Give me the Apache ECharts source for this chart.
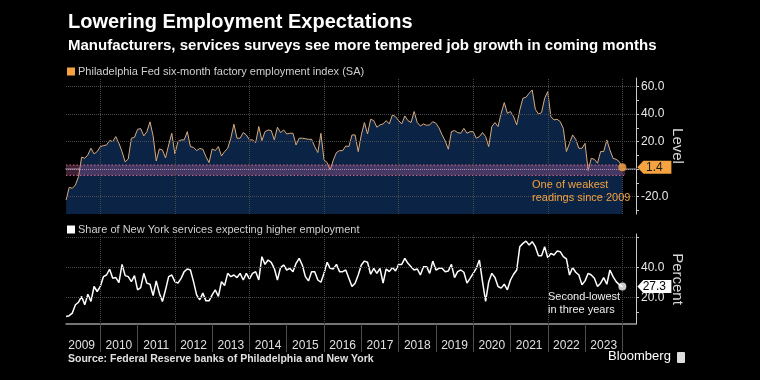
<!DOCTYPE html>
<html><head><meta charset="utf-8">
<script src="https://cdn.jsdelivr.net/npm/echarts@6/dist/echarts.min.js"></script>
<style>html,body{margin:0;padding:0;background:#000}#c{width:760px;height:380px}</style>
</head><body><div id="c"></div><script>
const startYear = 2009;
const titleText = 'Lowering Employment Expectations';
const subtitleText = 'Manufacturers, services surveys see more tempered job growth in coming months';
const phillyLabel = 'Philadelphia Fed six-month factory employment index (SA)';
const nyLabel = 'Share of New York services expecting higher employment';
const sourceText = 'Source: Federal Reserve banks of Philadelphia and New York';
const yearLabels = ['2009','2010','2011','2012','2013','2014','2015','2016','2017','2018','2019','2020','2021','2022','2023'];
const levelLabels = [60, 40, 20, -20];
const percentLabels = [40, 20];
const bandRange = [3, -4.5];

// Philadelphia Fed future employment index, monthly Jan 2009 - Dec 2023
const phillyFed = [
 -22.4,-13.2,-13.9,-11.5,-5.4,8.7,7.9,10.4,15.2,11.1,12.8,16.4,
 17.1,17.6,20.8,20.1,23.7,18.8,12.8,5.3,7.4,22.5,23.2,29.0,
 29.5,24.2,27.3,34.4,24.2,6.0,14.7,14.0,8.2,17.6,26.1,11.1,
 20.1,21.3,21.3,27.3,16.4,15.9,13.5,15.0,14.5,9.1,4.8,14.7,
 13.5,16.4,9.6,12.8,15.2,22.5,32.7,22.5,22.5,26.6,24.9,21.3,
 21.3,19.3,31.0,20.8,27.3,28.5,28.1,21.3,30.5,26.6,28.5,25.6,
 26.1,26.1,17.6,22.5,22.5,22.2,21.7,21.7,16.4,12.1,26.1,6.7,
 4.8,-0.6,6.7,12.1,13.5,13.5,16.9,16.4,24.9,24.9,12.8,24.9,
 33.9,25.6,36.3,35.3,30.5,32.2,32.9,35.3,32.9,39.4,38.2,35.3,
 32.9,38.7,35.3,33.9,41.9,33.9,31.4,32.9,31.9,32.2,34.6,33.4,
 30.0,24.9,20.5,14.5,27.3,28.1,26.6,26.1,29.7,26.1,27.3,27.3,
 22.5,23.7,26.6,23.7,16.4,31.0,33.9,31.0,40.7,48.4,40.7,41.9,
 38.2,32.2,43.1,51.6,52.3,55.2,57.6,43.6,40.2,41.1,51.6,56.4,
 38.2,35.8,36.3,34.6,29.7,12.8,18.8,24.9,21.7,15.2,15.2,18.8,
 -1.0,7.9,7.2,4.3,12.8,12.8,21.3,14.0,7.9,7.2,5.5,1.4
];
// NY Fed services: share expecting higher employment, monthly Jan 2009 - Dec 2023
const nyServices = [
 7.5,8.0,9.7,15.2,16.9,20.7,15.2,22.2,17.4,27.3,24.0,27.3,
 33.8,34.9,38.7,32.7,33.2,29.9,41.9,34.5,33.8,30.5,34.5,25.1,
 26.6,36.0,29.5,28.8,21.3,31.0,22.9,17.4,25.1,33.8,34.9,30.5,
 29.5,32.7,37.1,38.9,38.2,30.5,21.8,18.5,22.9,17.8,17.8,21.8,
 25.1,20.7,30.5,27.9,36.0,33.8,34.9,33.2,36.0,31.6,36.0,32.3,
 36.0,37.1,31.6,47.0,41.9,44.8,43.3,39.3,31.6,39.8,41.5,38.2,
 39.3,37.1,42.6,45.9,41.5,33.8,31.0,37.1,37.1,31.6,30.1,36.0,
 43.3,39.3,38.9,41.9,37.1,37.1,38.2,32.7,27.3,29.5,34.9,41.5,
 44.1,43.3,35.4,39.3,36.0,39.3,29.5,38.9,37.1,39.8,37.6,41.9,
 41.9,45.9,42.6,40.4,38.2,38.9,34.9,40.4,40.4,36.0,44.1,38.2,
 39.3,39.3,37.1,37.6,41.9,33.2,37.1,38.2,36.7,29.5,32.7,36.0,
 39.3,44.8,30.5,17.4,30.5,36.0,33.2,27.3,26.2,28.8,25.1,31.6,
 35.4,38.2,53.6,55.8,57.3,54.7,56.9,53.6,47.7,47.7,53.6,46.3,
 49.2,48.1,50.7,50.3,47.0,45.5,34.9,39.8,36.7,34.9,28.4,31.0,
 36.0,34.9,32.7,27.3,29.5,33.2,28.8,38.2,33.8,30.5,28.4,27.3
];

const ORANGE = '#f4a340';
const GRID_COLOR = '#4a4a4a';
const FONT = 'Liberation Sans';
const X_MIN = 2009.0805, X_MAX = 2024.366;

const months = phillyFed.map((_, i) => startYear + (i + 1) / 12);
const topData = phillyFed.map((v, i) => [months[i], v]);
const botData = nyServices.map((v, i) => [months[i], v]);
const lastX = months[months.length - 1];
const lastTop = phillyFed[phillyFed.length - 1];
const lastBot = nyServices[nyServices.length - 1];
const yearStarts = yearLabels.map(y => +y + 1);          // 2010..2024 boundaries
const yearMids = yearLabels.map(y => +y + 0.5);
const evenYears = yearStarts.filter(y => y % 2 === 0);

const dotted = {type: 'dotted', color: GRID_COLOR, width: 1};
function gridLines(hvals, extra) {
  const d = hvals.map(v => ({yAxis: v}));
  evenYears.forEach(y => d.push({xAxis: y}));
  return {silent: true, symbol: ['none', 'none'], label: {show: false}, lineStyle: dotted,
          animation: false, data: d.concat(extra || [])};
}
const tagPath = 'path://M0,6 L6,0 L34,0 L34,12 L6,12 Z';

const chart = echarts.init(document.getElementById('c'), null, {renderer: 'canvas'});
chart.setOption({
  backgroundColor: '#000',
  animation: false,
  textStyle: {fontFamily: FONT},
  title: {
    text: titleText, subtext: subtitleText, left: 63, top: 7, itemGap: 6,
    textStyle: {color: '#fff', fontSize: 20, fontWeight: 'bold', fontFamily: FONT},
    subtextStyle: {color: '#fff', fontSize: 15, fontWeight: 'bold', fontFamily: FONT}
  },
  legend: [
    {data: [phillyLabel], left: 62, top: 61, icon: 'rect', itemWidth: 8, itemHeight: 8, itemGap: 4,
     textStyle: {color: '#d0d0d0', fontSize: 11, padding: [0, 0, 0, -2]}, selectedMode: false},
    {data: [nyLabel], left: 62, top: 219, icon: 'rect', itemWidth: 8, itemHeight: 8, itemGap: 4,
     textStyle: {color: '#d0d0d0', fontSize: 11, padding: [0, 0, 0, -2]}, selectedMode: false}
  ],
  grid: [
    {left: 66, right: 124, top: 78, height: 136},
    {left: 66, right: 124, top: 234, height: 90}
  ],
  xAxis: [
    {gridIndex: 0, type: 'value', min: X_MIN, max: X_MAX,
     axisLine: {show: true, lineStyle: {color: '#4d4d4d', width: 2}},
     axisTick: {show: false}, axisLabel: {show: false}, splitLine: {show: false}},
    {gridIndex: 1, type: 'value', min: X_MIN, max: X_MAX,
     axisLine: {show: true, lineStyle: {color: '#9a9a9a', width: 1.5}},
     axisTick: {show: true, customValues: yearStarts, length: 28, lineStyle: {color: '#4d4d4d'}},
     axisLabel: {show: true, customValues: yearMids, formatter: v => String(Math.floor(v)),
                 color: '#e0e0e0', fontSize: 12, margin: 16},
     splitLine: {show: false}}
  ],
  yAxis: [
    {gridIndex: 0, type: 'value', position: 'right', min: -32.6, max: 66.3,
     axisLine: {show: true, lineStyle: {color: '#c8c8c8'}},
     axisTick: {show: true, customValues: [-30,-20,-10,0,10,20,30,40,50,60], length: 3, lineStyle: {color: '#c8c8c8'}},
     axisLabel: {customValues: levelLabels, formatter: v => v.toFixed(1), color: '#e8e8e8', fontSize: 12, margin: 5},
     splitLine: {show: false},
     name: 'Level', nameLocation: 'middle', nameRotate: -90, nameGap: 34, nameMoveOverlap: false,
     nameTextStyle: {color: '#d8d8d8', fontSize: 15}},
    {gridIndex: 1, type: 'value', position: 'right', min: 2.5, max: 62,
     axisLine: {show: true, lineStyle: {color: '#c8c8c8'}},
     axisTick: {show: true, customValues: [10, 20, 40, 60], length: 3, lineStyle: {color: '#c8c8c8'}},
     axisLabel: {customValues: percentLabels, formatter: v => v.toFixed(1), color: '#e8e8e8', fontSize: 12, margin: 5},
     splitLine: {show: false},
     name: 'Percent', nameLocation: 'middle', nameRotate: -90, nameGap: 34, nameMoveOverlap: false,
     nameTextStyle: {color: '#d8d8d8', fontSize: 15}}
  ],
  series: [
    {name: phillyLabel, type: 'line', xAxisIndex: 0, yAxisIndex: 0, data: topData, z: 2,
     showSymbol: false, symbol: 'none', itemStyle: {color: ORANGE},
     lineStyle: {color: '#d9ab7c', width: 1}, areaStyle: {color: '#0b2344', opacity: 1, origin: 'start'},
     markLine: gridLines([60, 40, 20, -20], [{yAxis: 0, lineStyle: {type: 'dotted', color: '#a58fb8', width: 1}}]),
     markPoint: {silent: true, symbol: tagPath, symbolSize: [34, 13], symbolOffset: [32, 0],
       itemStyle: {color: ORANGE},
       label: {show: true, position: 'inside', formatter: p => p.value.toFixed(1), color: '#1a1a1a', fontSize: 12},
       data: [{coord: [lastX, lastTop], value: lastTop}]}},
    {type: 'custom', xAxisIndex: 0, yAxisIndex: 0, z: 4, silent: true,
     data: [[X_MIN, bandRange[0], lastX + 0.08, bandRange[1]]],
     encode: {x: [0, 2], y: [1, 3]},
     renderItem: (params, api) => {
       const p0 = api.coord([api.value(0), api.value(1)]);
       const p1 = api.coord([api.value(2), api.value(3)]);
       const lineStyle = {stroke: '#d86a8c', lineWidth: 1, lineDash: [1.5, 2]};
       return {type: 'group', children: [
         {type: 'rect', shape: {x: p0[0], y: p0[1], width: p1[0] - p0[0], height: p1[1] - p0[1]},
          style: {fill: 'rgba(205,110,175,0.30)'}},
         {type: 'line', shape: {x1: p0[0], y1: p0[1], x2: p1[0], y2: p0[1]}, style: lineStyle},
         {type: 'line', shape: {x1: p0[0], y1: p1[1], x2: p1[0], y2: p1[1]}, style: lineStyle}
       ]};
     }},
    {type: 'scatter', xAxisIndex: 0, yAxisIndex: 0, data: [[lastX, lastTop]], symbolSize: 8,
     itemStyle: {color: ORANGE}, z: 6, silent: true},
    {name: nyLabel, type: 'line', xAxisIndex: 1, yAxisIndex: 1, data: botData,
     showSymbol: false, symbol: 'none', itemStyle: {color: '#ffffff'},
     lineStyle: {color: '#ffffff', width: 1.5},
     markLine: gridLines([60, 40, 20]),
     markPoint: {silent: true, symbol: tagPath, symbolSize: [34, 13], symbolOffset: [32, 0],
       itemStyle: {color: '#ffffff'},
       label: {show: true, position: 'inside', formatter: p => p.value.toFixed(1), color: '#000', fontSize: 12},
       data: [{coord: [lastX, lastBot], value: lastBot}]}},
    {type: 'scatter', xAxisIndex: 1, yAxisIndex: 1, data: [[lastX, lastBot]], symbolSize: 8,
     itemStyle: {color: '#ffffff'}, z: 6, silent: true}
  ],
  graphic: [
    {type: 'text', z: 100, left: 532, top: 178, style: {text: 'One of weakest\nreadings since 2009', fill: ORANGE, font: '11px "Liberation Sans"', lineHeight: 13}},
    {type: 'text', z: 100, left: 548, top: 290, style: {text: 'Second-lowest\nin three years', fill: '#eeeeee', font: '11px "Liberation Sans"', lineHeight: 13}},
    {type: 'text', z: 100, left: 68, top: 354, style: {text: sourceText, fill: '#e0e0e0', font: 'bold 10.5px "Liberation Sans"'}},
    {type: 'text', z: 100, left: 608, top: 350, style: {text: 'Bloomberg', fill: '#ffffff', font: '13px "Liberation Sans"'}},
    {type: 'rect', z: 100, left: 677, top: 352, shape: {width: 8, height: 11, r: 1}, style: {fill: '#dddddd'}}
  ]
});
</script></body></html>
